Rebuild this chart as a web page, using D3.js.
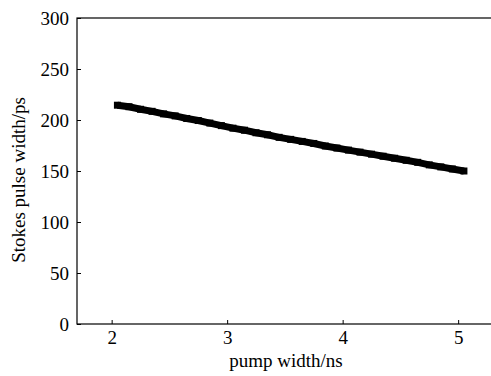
<!DOCTYPE html>
<html>
<head>
<meta charset="utf-8">
<script src="https://cdn.jsdelivr.net/npm/d3@7"></script>
<style>
  body { margin: 0; background: #fff; }
  text { font-family: "Liberation Serif", "Times New Roman", serif; }
</style>
</head>
<body>
<svg id="chart" width="491" height="376"></svg>
<script>
"use strict";

// pump width (ns) and Stokes pulse width (ps)
var pumpWidth = [2.05, 2.15, 2.25, 2.35, 2.45, 2.55, 2.65, 2.75, 2.85, 2.95,
    3.05, 3.15, 3.25, 3.35, 3.45, 3.55, 3.65, 3.75, 3.85, 3.95,
    4.05, 4.15, 4.25, 4.35, 4.45, 4.55, 4.65, 4.75, 4.85, 4.95, 5.05];
var stokesWidth = [214.5, 213, 210.5, 208.5, 206, 204, 201.5, 199.5, 197, 194.5,
    192, 190, 187.5, 185.5, 183, 181, 179, 177, 174.5, 172.5,
    170.5, 168.5, 166.5, 164.5, 162.5, 160.5, 158.5, 156, 154, 152, 150];
var xTicks = [2, 3, 4, 5];
var yTicks = [0, 50, 100, 150, 200, 250, 300];

var svg = d3.select("#chart");
var plotLeft = 77, plotTop = 18, plotBottom = 324, plotRight = 491;

var x = d3.scaleLinear()
    .domain([1.7, 1.7 + (plotRight - plotLeft) / 115.5])
    .range([plotLeft, plotRight]);
var y = d3.scaleLinear().domain([0, 300]).range([plotBottom, plotTop]);

var data = pumpWidth.map(function(d, i) {
    return { x: d, y: stokesWidth[i] };
});

// frame
svg.append("rect")
    .attr("x", plotLeft)
    .attr("y", plotTop)
    .attr("width", plotRight - plotLeft + 5)
    .attr("height", plotBottom - plotTop)
    .attr("fill", "none")
    .attr("stroke", "#000")
    .attr("stroke-width", 1.2);

var xAxis = svg.append("g")
    .attr("transform", "translate(0," + plotBottom + ")")
    .call(d3.axisBottom(x).tickValues(xTicks).tickSize(-4).tickPadding(7).tickFormat(d3.format("d")));
var yAxis = svg.append("g")
    .attr("transform", "translate(" + plotLeft + ",0)")
    .call(d3.axisLeft(y).tickValues(yTicks).tickSize(-4).tickPadding(8).tickFormat(d3.format("d")));

[xAxis, yAxis].forEach(function(ax) {
    ax.select(".domain").remove();
    ax.selectAll("line").attr("stroke", "#000").attr("stroke-width", 1);
    ax.selectAll("text")
        .attr("fill", "#000")
        .style("font-family", "'Liberation Serif', serif")
        .style("font-size", "19px");
});

// thick data line with square markers
var line = d3.line()
    .x(function(d) { return x(d.x); })
    .y(function(d) { return y(d.y); });

svg.append("path")
    .datum(data)
    .attr("d", line)
    .attr("fill", "none")
    .attr("stroke", "#000")
    .attr("stroke-width", 7);

svg.selectAll(".mk")
    .data(data)
    .enter().append("rect")
    .attr("class", "mk")
    .attr("x", function(d) { return x(d.x) - 3.5; })
    .attr("y", function(d) { return y(d.y) - 3.5; })
    .attr("width", 7)
    .attr("height", 7)
    .attr("fill", "#000");

// axis titles
svg.append("text")
    .attr("x", 286)
    .attr("y", 367)
    .attr("text-anchor", "middle")
    .style("font-size", "19px")
    .text("pump width/ns");

svg.append("text")
    .attr("transform", "translate(25,180) rotate(-90)")
    .attr("text-anchor", "middle")
    .style("font-size", "19px")
    .text("Stokes pulse width/ps");
</script>
</body>
</html>
